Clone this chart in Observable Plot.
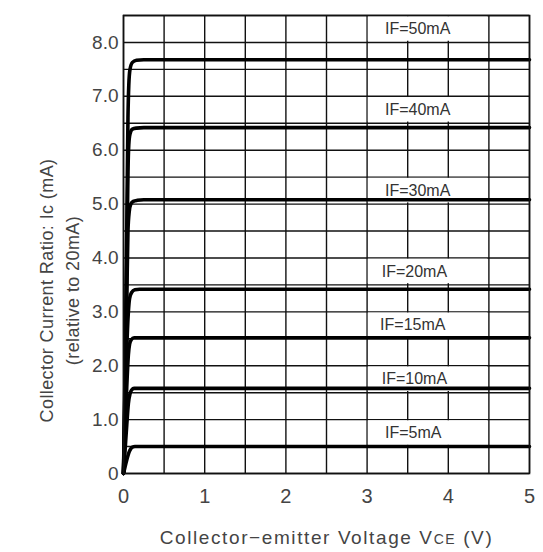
<!DOCTYPE html>
<html><head><meta charset="utf-8">
<script src="https://cdn.jsdelivr.net/npm/d3@7"></script>
<script src="https://cdn.jsdelivr.net/npm/@observablehq/plot@0.6"></script>
<style>body{margin:0;background:#fff} svg{display:block}</style>
</head><body><div id="chart"></div>
<script>
// Curve names (forward current)
const curveNames = ["IF=5mA","IF=10mA","IF=15mA","IF=20mA","IF=30mA","IF=40mA","IF=50mA"];
// Points (Vce in V, Ic ratio)
const vce5  = [0, 0.02, 0.04, 0.07, 0.09, 0.11, 0.14, 0.2, 5];
const ic5   = [0, 0.13, 0.25, 0.40, 0.46, 0.49, 0.50, 0.50, 0.50];
const vce10 = [0, 0.02, 0.04, 0.06, 0.08, 0.10, 0.13, 0.18, 5];
const ic10  = [0, 0.45, 0.90, 1.30, 1.48, 1.55, 1.58, 1.58, 1.58];
const vce15 = [0, 0.02, 0.04, 0.06, 0.075, 0.095, 0.13, 0.19, 5];
const ic15  = [0, 0.80, 1.60, 2.20, 2.40, 2.48, 2.52, 2.52, 2.52];
const vce20 = [0, 0.02, 0.04, 0.06, 0.075, 0.10, 0.14, 0.2, 5];
const ic20  = [0, 1.10, 2.30, 3.00, 3.25, 3.36, 3.41, 3.42, 3.42];
const vce30 = [0, 0.02, 0.04, 0.055, 0.07, 0.09, 0.12, 0.17, 0.25, 5];
const ic30  = [0, 1.50, 3.20, 4.50, 4.85, 5.00, 5.05, 5.07, 5.08, 5.08];
const vce40 = [0, 0.02, 0.04, 0.055, 0.065, 0.08, 0.11, 0.16, 0.25, 5];
const ic40  = [0, 1.70, 3.80, 5.60, 6.10, 6.30, 6.39, 6.41, 6.42, 6.42];
const vce50 = [0, 0.02, 0.04, 0.055, 0.065, 0.08, 0.11, 0.16, 0.25, 5];
const ic50  = [0, 2.00, 4.50, 6.60, 7.20, 7.50, 7.63, 7.67, 7.68, 7.68];

// Label positions (start x in V, row bounds in Ic)
const labelX   = [3.22, 3.18, 3.16, 3.18, 3.22, 3.22, 3.22];
const labelLo  = [0.5, 1.5, 2.5, 3.5, 5.0, 6.5, 8.0];
const labelHi  = [1.0, 2.0, 3.0, 4.0, 5.5, 7.0, 8.5];
const boxX1 = 3.0, boxX2 = 4.5;

// Axis ticks
const xTicks = [0, 1, 2, 3, 4, 5];
const xTickLabels = ["0", "1", "2", "3", "4", "5"];
const yTicks = [0, 1, 2, 3, 4, 5, 6, 7, 8];
const yTickLabels = ["0", "1.0", "2.0", "3.0", "4.0", "5.0", "6.0", "7.0", "8.0"];
const xGrid = [0, 0.5, 1, 1.5, 2, 2.5, 3, 3.5, 4, 4.5, 5];
const yGrid = [0, 0.5, 1, 1.5, 2, 2.5, 3, 3.5, 4, 4.5, 5, 5.5, 6, 6.5, 7, 7.5, 8, 8.5];

const xTitle = "Collector\u2212emitter Voltage VCE (V)";
const yTitle = "Collector Current Ratio: Ic (mA)\n(relative to 20mA)";

const vces = [vce5, vce10, vce15, vce20, vce30, vce40, vce50];
const ics  = [ic5, ic10, ic15, ic20, ic30, ic40, ic50];
const curveData = curveNames.flatMap((n, k) => vces[k].map((v, j) => ({name: n, v, i: ics[k][j]})));
const labelData = curveNames.map((n, k) => ({name: n, x: labelX[k], lo: labelLo[k], hi: labelHi[k], mid: (labelLo[k] + labelHi[k]) / 2}));

const ink = "#111";
const textInk = "#444";
const chart = Plot.plot({
  width: 543, height: 552,
  marginLeft: 123, marginRight: 14, marginTop: 15, marginBottom: 79,
  style: {fontFamily: "'Liberation Sans', Arial, sans-serif", background: "#fff", color: "#333"},
  x: {domain: [0, 5]},
  y: {domain: [0, 8.5]},
  marks: [
    Plot.ruleX(xGrid, {stroke: ink, strokeWidth: 1.4}),
    Plot.ruleY(yGrid, {stroke: ink, strokeWidth: 1.4}),
    Plot.rect(labelData, {x1: () => boxX1, x2: () => boxX2, y1: "lo", y2: "hi", fill: "white", inset: 1.2}),
    Plot.line(curveData, {x: "v", y: "i", z: "name", curve: "monotone-x", stroke: "#000", strokeWidth: 3.6, strokeLinejoin: "round"}),
    Plot.frame({stroke: ink, strokeWidth: 1.6}),
    Plot.text(labelData, {x: "x", y: "mid", text: "name", textAnchor: "start", fontSize: 16, fill: "#333"}),
    Plot.axisX(xTicks, {tickSize: 0, tickPadding: 15, fontSize: 20, fill: textInk, tickFormat: (d) => xTickLabels[xTicks.indexOf(d)], label: null}),
    Plot.axisY(yTicks, {tickSize: 0, tickPadding: 5, fontSize: 19, fill: textInk, tickFormat: (d) => yTickLabels[yTicks.indexOf(d)], label: null}),
    Plot.text([yTitle], {frameAnchor: "left", textAnchor: "middle", lineAnchor: "middle", rotate: -90, dx: -66, dy: 46, fontSize: 18, lineHeight: 1.45, fill: textInk}),
    Plot.text([xTitle], {frameAnchor: "bottom", textAnchor: "middle", dy: 70, fontSize: 19, fill: textInk})
  ]
});
document.getElementById("chart").appendChild(chart);

// Small caps style for "CE" in the x title
d3.select(chart).selectAll("text").each(function() {
  if (this.textContent === xTitle) {
    const t = d3.select(this);
    t.text(null).style("letter-spacing", "1.6px");
    t.append("tspan").text("Collector\u2212emitter Voltage V");
    t.append("tspan").attr("font-size", 14).text("CE");
    t.append("tspan").text(" (V)");
  }
  if (this.textContent.startsWith("Collector Current")) {
    d3.select(this).style("letter-spacing", "0.4px");
  }
});
</script>
</body></html>
